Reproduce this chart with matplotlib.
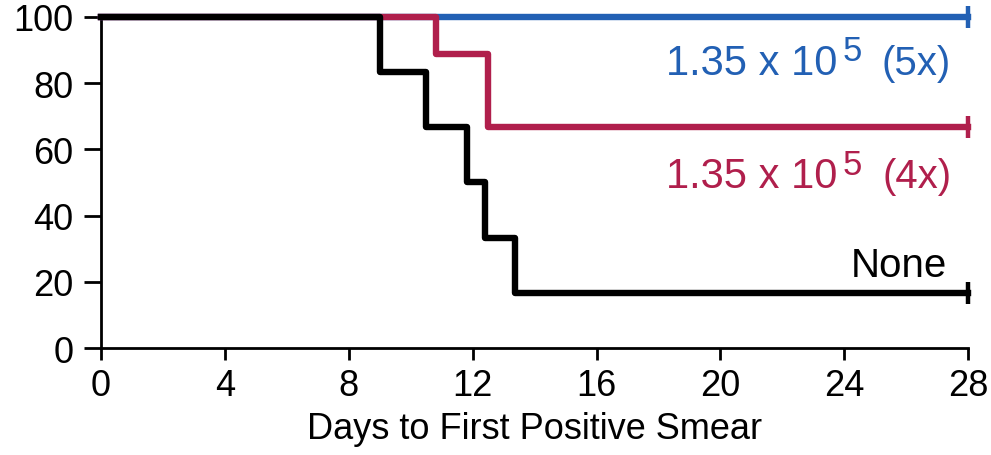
import matplotlib
matplotlib.use("Agg")
import matplotlib.pyplot as plt

plt.rcParams['font.family'] = ['Liberation Sans', 'DejaVu Sans']

# step curves: day of change, percent after change
none_days = [0, 9, 10.5, 11.8, 12.4, 13.35, 28]
none_pct = [100, 83.3, 66.7, 50, 33.3, 16.7, 16.7]
x4_days = [0, 10.8, 12.5, 28]
x4_pct = [100, 88.9, 66.7, 66.7]
x5_days = [0, 28]
x5_pct = [100, 100]

blue = '#2260b4'
red = '#b01f4c'
black = '#000000'

fig = plt.figure(figsize=(9.91, 4.56), dpi=100)
ax = fig.add_axes([0.102, 0.2346, 0.875, 0.726])

lw = 4.6
ax.step(x5_days, x5_pct, where='post', color=blue, lw=lw, clip_on=False, zorder=3)
ax.step(x4_days, x4_pct, where='post', color=red, lw=lw, clip_on=False, zorder=4)
ax.step(none_days, none_pct, where='post', color=black, lw=lw, clip_on=False, zorder=5)

# censor marks at the end
for days, pct, c in [(x5_days, x5_pct, blue), (x4_days, x4_pct, red), (none_days, none_pct, black)]:
    ax.plot([days[-1]], [pct[-1]], marker='|', ms=16, mew=3.2, color=c, clip_on=False, zorder=6)


def dose_label(y, fold, color):
    # built from pieces so the exponent can be big like in the original
    anchor = (27.45, y)
    ax.annotate(f'({fold})', anchor, xytext=(0, 0), textcoords='offset points',
                color=color, fontsize=29, ha='right', va='baseline')
    ax.annotate('5', anchor, xytext=(-64, 10), textcoords='offset points',
                color=color, fontsize=25, ha='right', va='baseline')
    ax.annotate('1.35 x 10', anchor, xytext=(-82, 0), textcoords='offset points',
                color=color, fontsize=30, ha='right', va='baseline')


dose_label(82.8, '5x', blue)
dose_label(48.5, '4x', red)
ax.text(27.3, 21.8, 'None', color=black, fontsize=29, ha='right', va='baseline')

ax.set_xlim(0, 28)
ax.set_ylim(0, 100)
ax.set_xticks([0, 4, 8, 12, 16, 20, 24, 28])
ax.set_yticks([0, 20, 40, 60, 80, 100])
ax.spines['top'].set_visible(False)
ax.spines['right'].set_visible(False)
ax.spines['left'].set_linewidth(2)
ax.spines['bottom'].set_linewidth(2)
ax.tick_params(direction='out', width=2, labelsize=26)
ax.tick_params(axis='y', length=12, pad=8)
ax.tick_params(axis='x', length=8.5, pad=6)
ax.set_xlabel('Days to First Positive Smear', fontsize=26, labelpad=6)

fig.savefig('out.png', dpi=100)
